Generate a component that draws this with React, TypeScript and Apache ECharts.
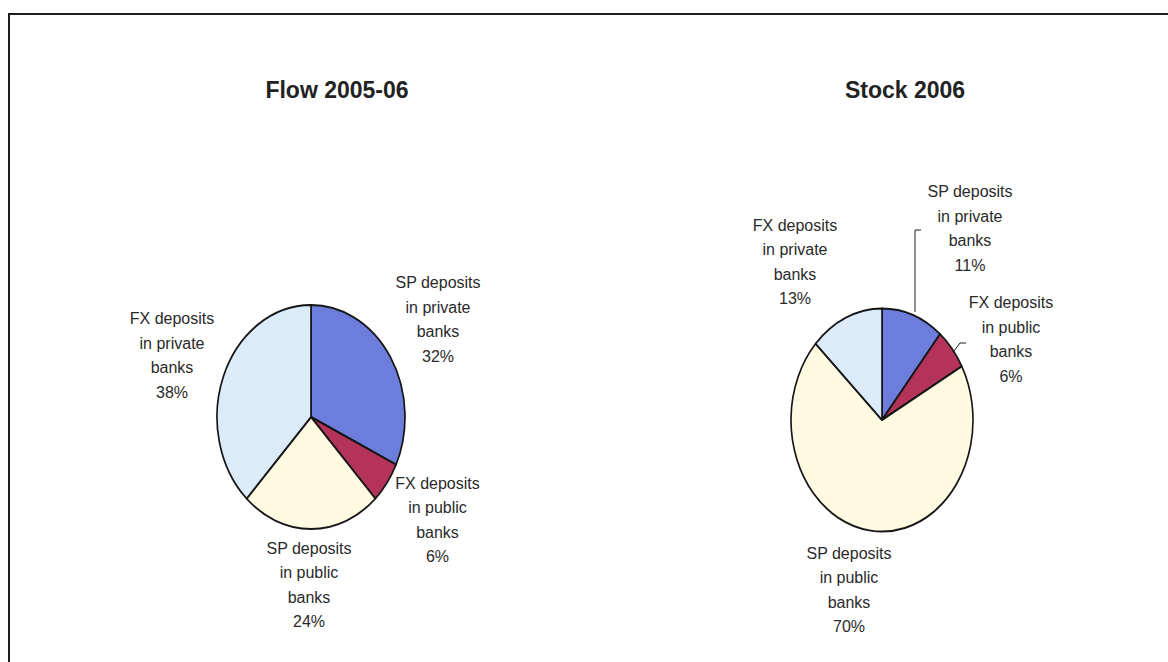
import React, { useEffect, useRef } from "react";
import * as echarts from "echarts";

// ---- data ----
const categories = [
  "SP deposits in private banks",
  "FX deposits in public banks",
  "SP deposits in public banks",
  "FX deposits in private banks",
];
const flowValues = [32, 6, 24, 38];
const stockValues = [11, 6, 70, 13];
const chartTitles = ["Flow 2005-06", "Stock 2006"];

// ---- layout / style ----
const SLICE_COLORS = ["#6c7ddc", "#b4335a", "#fffae1", "#dcebfa"];
const FONT = "'Liberation Sans', Arial, Helvetica, sans-serif";
const TITLE_X = [337, 905];

const PIES = [
  { values: flowValues, cx: 311, cy: 417, ry: 112, rx: 94 },
  { values: stockValues, cx: 882, cy: 420, ry: 111.5, rx: 91 },
];

const LABEL_POS: number[][][] = [
  [[438, 319.5], [437.5, 520], [309, 585], [172, 355.5]],
  [[970, 228.5], [1011, 339.5], [849, 590], [795, 262]],
];
const LEADERS: (number[][] | null)[][] = [
  [null, null, null, null],
  [
    [[915, 312], [915, 230], [921, 230]],
    [[954, 351], [960, 343], [966, 343]],
    null,
    null,
  ],
];

const wrap = (name: string) =>
  name.replace(" in ", "\nin ").replace(/ banks$/, "\nbanks");

const BOX = 260;

function PieBase({ index }: { index: number }) {
  const ref = useRef<HTMLDivElement>(null);
  const p = PIES[index];
  useEffect(() => {
    if (!ref.current) return;
    const chart = echarts.init(ref.current, undefined, { renderer: "svg" });
    chart.setOption({
      animation: false,
      backgroundColor: "transparent",
      series: [
        {
          type: "pie",
          center: ["50%", "50%"],
          radius: p.ry,
          startAngle: 90,
          clockwise: true,
          silent: true,
          emphasis: { disabled: true },
          label: { show: false },
          labelLine: { show: false },
          itemStyle: { borderColor: "#161616", borderWidth: 2 },
          data: p.values.map((v, i) => ({
            value: v,
            name: categories[i],
            itemStyle: { color: SLICE_COLORS[i] },
          })),
        },
      ],
    });
    return () => chart.dispose();
  }, []);
  return (
    <div
      ref={ref}
      style={{
        position: "absolute",
        left: p.cx - BOX / 2,
        top: p.cy - BOX / 2,
        width: BOX,
        height: BOX,
        transform: `scaleX(${p.rx / p.ry})`,
        transformOrigin: "50% 50%",
        zIndex: 1,
      }}
    />
  );
}

function Overlay() {
  const ref = useRef<HTMLDivElement>(null);
  useEffect(() => {
    if (!ref.current) return;
    const chart = echarts.init(ref.current, undefined, { renderer: "svg" });
    chart.setOption({
      animation: false,
      backgroundColor: "transparent",
      title: chartTitles.map((t, i) => ({
        text: t,
        left: TITLE_X[i],
        top: 78,
        textAlign: "center",
        padding: 0,
        textStyle: {
          fontFamily: FONT,
          fontSize: 23,
          fontWeight: "bold",
          color: "#222222",
        },
      })),
      graphic: [
        {
          type: "rect",
          silent: true,
          z: -10,
          shape: { x: 9, y: 14, width: 1300, height: 800 },
          style: { fill: "none", stroke: "#1e1e1e", lineWidth: 2 },
        },
      ],
      series: PIES.map((p, si) => ({
        type: "pie",
        center: [p.cx, p.cy],
        radius: 100,
        startAngle: 90,
        clockwise: true,
        avoidLabelOverlap: false,
        silent: true,
        emphasis: { disabled: true },
        itemStyle: { color: "rgba(0,0,0,0)", borderWidth: 0 },
        label: {
          show: true,
          position: "outside",
          formatter: (prm: any) =>
            `${wrap(prm.name)}\n${Math.round(prm.percent)}%`,
          fontFamily: FONT,
          fontSize: 16,
          lineHeight: 24.5,
          color: "#2a2a2a",
          align: "center",
          overflow: "none",
        },
        labelLine: {
          show: true,
          lineStyle: { color: "#1e1e1e", width: 1 },
        },
        labelLayout: (prm: any) => {
          const pos = LABEL_POS[si][prm.dataIndex];
          const out: any = {
            x: pos[0],
            y: pos[1],
            align: "center",
            verticalAlign: "middle",
          };
          const l = LEADERS[si][prm.dataIndex];
          if (l) out.labelLinePoints = l;
          return out;
        },
        data: p.values.map((v, i) => ({
          value: v,
          name: categories[i],
          labelLine: { show: !!LEADERS[si][i] },
        })),
      })),
    });
    return () => chart.dispose();
  }, []);
  return (
    <div
      ref={ref}
      style={{
        position: "absolute",
        left: 0,
        top: 0,
        width: 1168,
        height: 662,
        zIndex: 2,
      }}
    />
  );
}

export default function App() {
  return (
    <div
      style={{
        position: "fixed",
        left: 0,
        top: 0,
        width: 1168,
        height: 662,
        background: "#ffffff",
        overflow: "hidden",
      }}
    >
      <PieBase index={0} />
      <PieBase index={1} />
      <Overlay />
    </div>
  );
}
